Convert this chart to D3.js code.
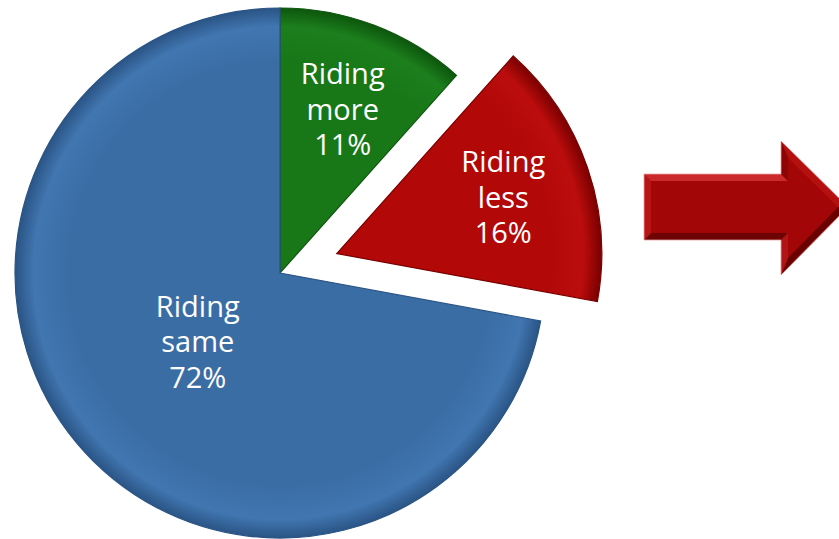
<!DOCTYPE html>
<html><head><meta charset="utf-8">
<script src="https://cdn.jsdelivr.net/npm/d3@7"></script>
<style>body{margin:0;background:#fff}svg{display:block}</style>
</head><body>
<svg id="c" width="839" height="539"></svg>
<script>
// ---- data ----
const categories = ["Riding more", "Riding less", "Riding same"];
const values = [11.6, 16.3, 72.1];
const percentLabels = ["11%", "16%", "72%"];
const colors = ["#187818", "#b20808", "#3b6da5"];
const darkColors = ["#0d560d", "#7a0000", "#2a5485"];
const lightColors = ["#1c7e1c", "#bb0d0d", "#4176b0"];
const explode = [0, 1, 0];

// ---- layout ----
const svg = d3.select("#c");
const cx = 280, cy = 273, R = 265, explodeDist = 60;
const defs = svg.append("defs");

colors.forEach((c, i) => {
  const g = defs.append("radialGradient")
    .attr("id", "g" + i).attr("gradientUnits", "userSpaceOnUse")
    .attr("cx", 0).attr("cy", 0).attr("r", R);
  g.append("stop").attr("offset", "0%").attr("stop-color", c);
  g.append("stop").attr("offset", "80%").attr("stop-color", c);
  g.append("stop").attr("offset", "93%").attr("stop-color", lightColors[i]);
  g.append("stop").attr("offset", "100%").attr("stop-color", darkColors[i]);
});

const pie = d3.pie().sort(null).value(d => d);
const arcs = pie(values);
const arc = d3.arc().innerRadius(0).outerRadius(R);

const gPie = svg.append("g").attr("transform", `translate(${cx},${cy})`);

const slice = gPie.selectAll("g.slice").data(arcs).enter().append("g")
  .attr("class", "slice")
  .attr("transform", d => {
    const a = (d.startAngle + d.endAngle) / 2;
    const k = explode[d.index] * explodeDist;
    return `translate(${Math.sin(a) * k},${-Math.cos(a) * k})`;
  });

slice.append("path")
  .attr("d", arc)
  .attr("fill", d => `url(#g${d.index})`)
  .attr("stroke", d => darkColors[d.index])
  .attr("stroke-width", 1.2);

const labelRadius = d => d.index === 2 ? 107 : 176;
slice.each(function(d) {
  const r = labelRadius(d);
  const c = d3.arc().innerRadius(r).outerRadius(r).centroid(d);
  const words = categories[d.index].split(" ");
  const lines = [words[0], words[1], percentLabels[d.index]];
  const t = d3.select(this).append("text")
    .attr("text-anchor", "middle")
    .attr("font-family", "'Open Sans', sans-serif")
    .attr("font-size", 29)
    .attr("fill", "#fff");
  lines.forEach((ln, j) => {
    t.append("tspan").attr("x", c[0]).attr("y", c[1] - 24.5 + j * 35.5).text(ln);
  });
});

// ---- arrow (decoration) ----
const ga = svg.append("g");
const x0 = 644, xh = 781, xt = 848, yT = 174, yB = 240, yHT = 141, yHB = 275, ym = 207, b = 7;
ga.append("path")
  .attr("d", `M${x0},${yT}L${xh},${yT}L${xh},${yHT}L${xt},${ym}L${xh},${yHB}L${xh},${yB}L${x0},${yB}Z`)
  .attr("fill", "#a30606");
ga.append("path").attr("d", `M${x0},${yT}L${xh},${yT}L${xh+b},${yT+b}L${x0+b},${yT+b}Z`).attr("fill", "#cc2a2a");
ga.append("path").attr("d", `M${x0},${yB}L${xh},${yB}L${xh+b},${yB-b}L${x0+b},${yB-b}Z`).attr("fill", "#6d0303");
ga.append("path").attr("d", `M${x0},${yT}L${x0+b},${yT+b}L${x0+b},${yB-b}L${x0},${yB}Z`).attr("fill", "#b81616");
ga.append("path").attr("d", `M${xh},${yHT}L${xt},${ym}L${xt-10},${ym}L${xh+b},${yHT+17}Z`).attr("fill", "#b51010");
ga.append("path").attr("d", `M${xh},${yHT}L${xh+b},${yHT+17}L${xh+b},${yT+b}L${xh},${yT}Z`).attr("fill", "#8c0404");
ga.append("path").attr("d", `M${xh},${yHB}L${xt},${ym}L${xt-10},${ym}L${xh+b},${yHB-17}Z`).attr("fill", "#6a0000");
ga.append("path").attr("d", `M${xh},${yHB}L${xh+b},${yHB-17}L${xh+b},${yB-b}L${xh},${yB}Z`).attr("fill", "#b01414");
ga.append("path")
  .attr("d", `M${x0},${yT}L${xh},${yT}L${xh},${yHT}L${xt},${ym}L${xh},${yHB}L${xh},${yB}L${x0},${yB}Z`)
  .attr("fill", "none").attr("stroke", "#e8a0a0").attr("stroke-width", 0.8);
</script>
</body></html>
